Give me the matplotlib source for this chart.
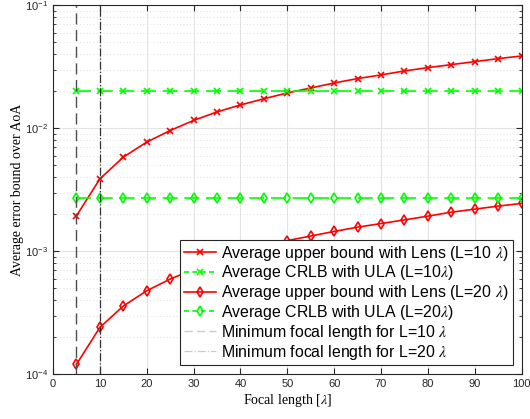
import matplotlib
matplotlib.use("Agg")
import matplotlib.pyplot as plt
from matplotlib.lines import Line2D
from matplotlib.ticker import LogLocator, NullFormatter

plt.rcParams["font.family"] = ["Liberation Sans", "DejaVu Sans"]
plt.rcParams["mathtext.fontset"] = "stix"

# focal length sweep [lambda]
focal = [5, 10, 15, 20, 25, 30, 35, 40, 45, 50,
         55, 60, 65, 70, 75, 80, 85, 90, 95, 100]

# average upper bound with lens, L = 10 lambda
lens_l10 = [1.94e-3, 3.88e-3, 5.83e-3, 7.73e-3, 9.6e-3, 1.16e-2, 1.36e-2,
            1.55e-2, 1.74e-2, 1.94e-2, 2.13e-2, 2.34e-2, 2.54e-2, 2.72e-2,
            2.93e-2, 3.12e-2, 3.30e-2, 3.49e-2, 3.69e-2, 3.88e-2]
# average upper bound with lens, L = 20 lambda
lens_l20 = [1.2e-4, 2.4e-4, 3.58e-4, 4.77e-4, 5.94e-4, 7.1e-4, 8.3e-4,
            9.5e-4, 1.08e-3, 1.22e-3, 1.33e-3, 1.45e-3, 1.57e-3, 1.68e-3,
            1.80e-3, 1.93e-3, 2.08e-3, 2.2e-3, 2.33e-3, 2.45e-3]
# CRLB with ULA (flat)
crlb_l10 = [2.0e-2] * len(focal)
crlb_l20 = [2.7e-3] * len(focal)

min_focal_l10 = 5
min_focal_l20 = 10

labels = ["Average upper bound with Lens (L=10 $\\lambda$)",
          "Average CRLB with ULA (L=10$\\lambda$)",
          "Average upper bound with Lens (L=20 $\\lambda$)",
          "Average CRLB with ULA (L=20$\\lambda$)",
          "Minimum focal length for L=10 $\\lambda$",
          "Minimum focal length for L=20 $\\lambda$"]

fig = plt.figure(figsize=(5.3, 4.19), dpi=100)
ax = fig.add_axes([0.1, 0.107, 0.884, 0.88])

red = "#ff0000"
green = "#00ff00"

ax.plot(focal, lens_l10, color=red, lw=1.2, marker="x", ms=4, mew=1.2)
ax.plot(focal, crlb_l10, color=green, lw=1.2, dashes=(9, 4),
        marker="x", ms=4, mew=1.2)
ax.plot(focal, lens_l20, color=red, lw=1.2, marker="d", ms=5.5,
        mfc="none", mew=1.2)
ax.plot(focal, crlb_l20, color=green, lw=1.2, dashes=(9, 4),
        marker="d", ms=5.5, mfc="none", mew=1.2)
ax.axvline(min_focal_l10, color="0.3", lw=1.0, dashes=(8, 4))
ax.axvline(min_focal_l20, color="0.2", lw=0.9, ls="-.")

ax.set_yscale("log")
ax.set_xlim(0, 100)
ax.set_ylim(1e-4, 1e-1)
ax.set_xticks(range(0, 101, 10))
ax.yaxis.set_minor_locator(LogLocator(base=10, subs=range(2, 10)))
ax.yaxis.set_minor_formatter(NullFormatter())

ax.grid(which="major", color="#e3e3e3", lw=0.8)
ax.grid(which="minor", axis="y", color="#d5d5d5", lw=0.6, ls=(0, (1, 3)))
ax.set_axisbelow(True)

ax.tick_params(which="both", direction="in", top=True, right=True,
               labelsize=8, colors="0.15", labelcolor="0.15")
ax.tick_params(which="major", length=4)
ax.tick_params(which="minor", length=2)
for s in ax.spines.values():
    s.set_color("0.15")
    s.set_linewidth(0.8)

ax.set_xlabel("Focal length [$\\lambda$]", family="Liberation Serif",
              fontsize=10, labelpad=2)
ax.set_ylabel("Average error bound over AoA", family="Liberation Serif",
              fontsize=10, labelpad=1)

handles = [
    Line2D([], [], color=red, lw=1.2, marker="x", ms=4, mew=1.2),
    Line2D([], [], color=green, lw=1.2, dashes=(3, 2), marker="x",
           ms=4, mew=1.2),
    Line2D([], [], color=red, lw=1.2, marker="d", ms=5.5, mfc="none", mew=1.2),
    Line2D([], [], color=green, lw=1.2, dashes=(3, 2), marker="d", ms=5.5,
           mfc="none", mew=1.2),
    Line2D([], [], color="0.8", lw=1.0, dashes=(6, 3)),
    Line2D([], [], color="0.8", lw=0.9, ls="-."),
]
leg = ax.legend(handles, labels, loc="lower right", fontsize=11.4,
                fancybox=False, framealpha=1, edgecolor="0.15",
                borderaxespad=0.55, handlelength=2.0, labelspacing=0.05,
                borderpad=0.25, handletextpad=0.35)
leg.get_frame().set_linewidth(0.8)

fig.savefig("out.png", dpi=100)
